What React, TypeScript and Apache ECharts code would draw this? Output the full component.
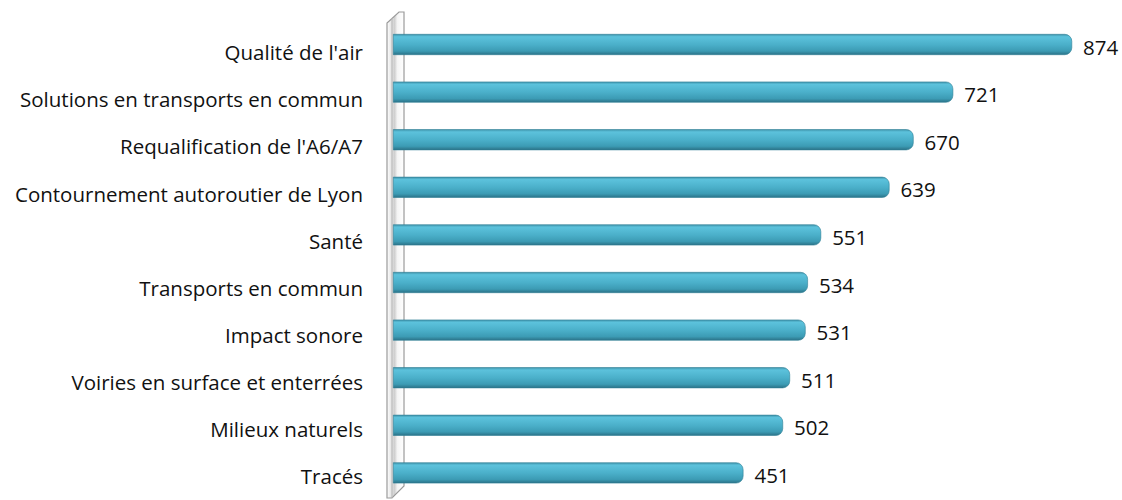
import React, { useEffect, useRef } from "react";
import * as echarts from "echarts";

const categories = [
  "Qualité de l'air",
  "Solutions en transports en commun",
  "Requalification de l'A6/A7",
  "Contournement autoroutier de Lyon",
  "Santé",
  "Transports en commun",
  "Impact sonore",
  "Voiries en surface et enterrées",
  "Milieux naturels",
  "Tracés",
];
const values = [874, 721, 670, 639, 551, 534, 531, 511, 502, 451];

const FONT = "'Open Sans', sans-serif";

export default function App() {
  const ref = useRef<HTMLDivElement>(null);
  useEffect(() => {
    if (!ref.current) return;
    const chart = echarts.init(ref.current, undefined, { renderer: "svg" });
    const barGrad = new echarts.graphic.LinearGradient(0, 0, 0, 1, [
      { offset: 0, color: "#3f93aa" },
      { offset: 0.12, color: "#5cc2dc" },
      { offset: 0.5, color: "#4bb0ca" },
      { offset: 0.82, color: "#3c9bb4" },
      { offset: 1, color: "#2b7287" },
    ]);
    const wallGrad = new echarts.graphic.LinearGradient(0, 0, 1, 0, [
      { offset: 0, color: "#ffffff" },
      { offset: 0.45, color: "#cfcfcf" },
      { offset: 0.6, color: "#f4f4f4" },
      { offset: 1, color: "#ffffff" },
    ]);
    chart.setOption({
      animation: false,
      backgroundColor: "#ffffff",
      grid: [
        { left: 393, right: 29.7, top: 20.7, bottom: 3.3, containLabel: false },
        { left: 393, right: 29.7, top: 28.5, bottom: -4.5, containLabel: false },
      ],
      xAxis: [
        { type: "value", min: 0, max: 900, show: false, gridIndex: 0 },
        { type: "value", min: 0, max: 900, show: false, gridIndex: 1 },
      ],
      yAxis: [
        {
          type: "category",
          gridIndex: 0,
          data: categories,
          inverse: true,
          axisLine: { show: false },
          axisTick: { show: false },
          axisLabel: { show: false },
        },
        {
          type: "category",
          gridIndex: 1,
          data: categories,
          inverse: true,
          axisLine: { show: false },
          axisTick: { show: false },
          axisLabel: {
            margin: 30,
            fontFamily: FONT,
            fontSize: 20.5,
            color: "#111111",
          },
        },
      ],
      graphic: [
        {
          type: "polygon",
          z: 0,
          shape: {
            points: [
              [387, 498],
              [387, 23],
              [399, 12],
              [404, 12],
              [404, 486],
              [392, 498],
            ],
          },
          style: { fill: wallGrad, stroke: "#9a9a9a", lineWidth: 1.2 },
        },
        {
          type: "line",
          z: 0,
          shape: { x1: 392, y1: 18, x2: 392, y2: 498 },
          style: { stroke: "#b5b5b5", lineWidth: 1 },
        },
      ],
      series: [
        {
          type: "bar",
          xAxisIndex: 0,
          yAxisIndex: 0,
          data: values,
          barWidth: 21,
          z: 5,
          itemStyle: {
            color: barGrad,
            borderRadius: [0, 7, 7, 0],
            borderColor: "#2f7f95",
            borderWidth: 0.6,
          },
          label: {
            show: true,
            position: "right",
            distance: 11,
            offset: [0, 2],
            fontFamily: FONT,
            fontSize: 20.5,
            color: "#111111",
          },
        },
      ],
    });
    return () => chart.dispose();
  }, []);
  return (
    <div
      ref={ref}
      style={{ position: "fixed", left: 0, top: 0, width: 1122, height: 500 }}
    />
  );
}
